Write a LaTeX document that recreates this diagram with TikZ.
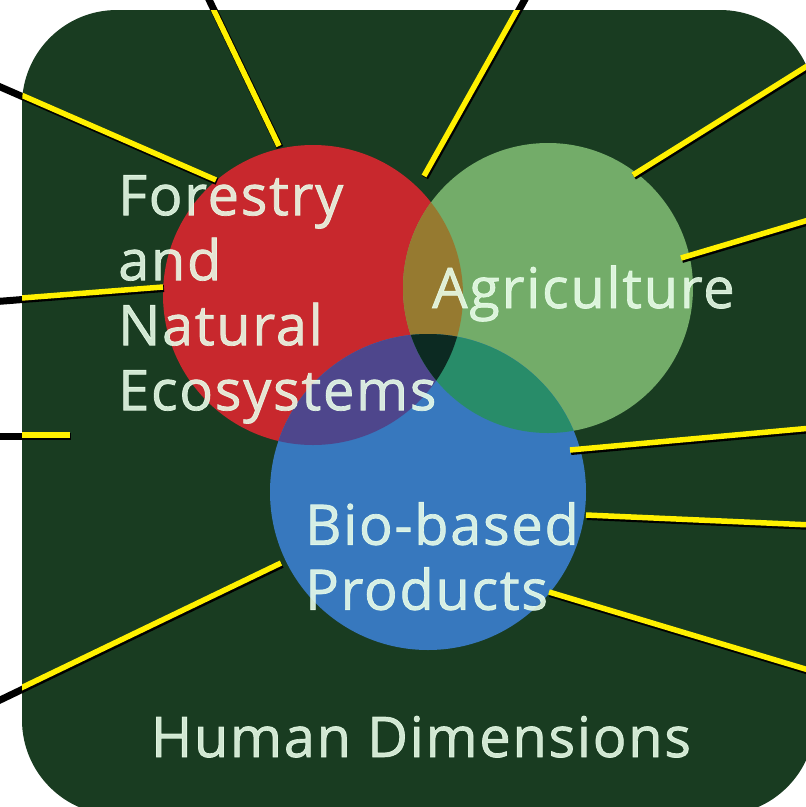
\documentclass[tikz,border=0pt]{standalone}
\usepackage{fontspec}
\setmainfont{Open Sans}
\newfontfamily\setfont[LetterSpace=3, FakeBold=1.2]{Open Sans}
\usetikzlibrary{positioning}
\definecolor{boardgreen}{RGB}{25, 60, 33}
\definecolor{forestred}{RGB}{200, 40, 45}
\definecolor{agrigreen}{RGB}{115, 172, 105}
\definecolor{biobue}{RGB}{55, 120, 190}
\definecolor{forestagri}{RGB}{150, 122, 48}
\definecolor{forestbio}{RGB}{78, 70, 140}
\definecolor{agribio}{RGB}{40, 140, 105}
\definecolor{allthree}{RGB}{12, 42, 34}
\definecolor{leadyellow}{RGB}{255, 240, 0}
\definecolor{labelwhite}{RGB}{235, 255, 235}

\begin{document}
\begin{tikzpicture}[
    x=1pt, y=-1pt,
    lead/.style={line width=5.5pt, leadyellow},
    leadshadow/.style={line width=7pt, black},
    setlabel/.style={font=\setfont\fontsize{56}{65}\selectfont, text=labelwhite, text opacity=0.88, align=left, inner sep=0pt},
]
    \useasboundingbox (0,0) rectangle (806,807);
    \fill[white] (0,0) rectangle (806,807);

    % Board
    \fill[boardgreen, rounded corners=95pt] (22,10) rectangle (815,815);

    % Circle centres
    \coordinate (forest) at (313,295);
    \coordinate (agri) at (548,288);
    \coordinate (bio) at (428,492);

    % Circles
    \fill[forestred] (forest) circle[radius=150pt];
    \fill[agrigreen] (agri) circle[radius=145pt];
    \fill[biobue] (bio) circle[radius=158pt];

    % Overlaps
    \begin{scope}
        \clip (forest) circle[radius=150pt];
        \fill[forestagri] (agri) circle[radius=145pt];
        \fill[forestbio] (bio) circle[radius=158pt];
    \end{scope}
    \begin{scope}
        \clip (agri) circle[radius=145pt];
        \fill[agribio] (bio) circle[radius=158pt];
        \clip (bio) circle[radius=158pt];
        \fill[allthree] (forest) circle[radius=150pt];
    \end{scope}

    % Leader lines: outer end / inner end
    \coordinate (a1) at (207,-4);  \coordinate (b1) at (279,146);
    \coordinate (a2) at (-4,84);   \coordinate (b2) at (216,180);
    \coordinate (a3) at (-4,300);  \coordinate (b3) at (163,287);
    \coordinate (a4) at (-4,435);  \coordinate (b4) at (70,435);
    \coordinate (a5) at (-4,700);  \coordinate (b5) at (281,563);
    \coordinate (a6) at (525,-4);  \coordinate (b6) at (424,176);
    \coordinate (a7) at (812,63);  \coordinate (b7) at (633,175);
    \coordinate (a8) at (812,219); \coordinate (b8) at (681,258);
    \coordinate (a9) at (812,428); \coordinate (b9) at (570,450);
    \coordinate (a10) at (812,525); \coordinate (b10) at (586,515);
    \coordinate (a11) at (812,671); \coordinate (b11) at (549,592);

    \foreach \i in {1,...,11}
        \draw[leadshadow] ([shift={(1,1.5)}]a\i) -- ([shift={(1,1.5)}]b\i);
    \begin{scope}
        \clip[rounded corners=95pt] (22,10) rectangle (815,815);
        \foreach \i in {1,...,11}
            \draw[lead] (a\i) -- (b\i);
    \end{scope}

    % Labels
    \node[setlabel, anchor=north west] (forestlabel) at (118,175)
        {Forestry\\and\\Natural\\Ecosystems};
    \node[setlabel, anchor=base west] (agrilabel) at (432,308) {Agriculture};
    \node[setlabel, anchor=north west] (biolabel) at (305,502)
        {Bio-based\\Products};
    \node[setlabel, anchor=base] (humanlabel) at (421,757) {Human Dimensions};
\end{tikzpicture}
\end{document}
